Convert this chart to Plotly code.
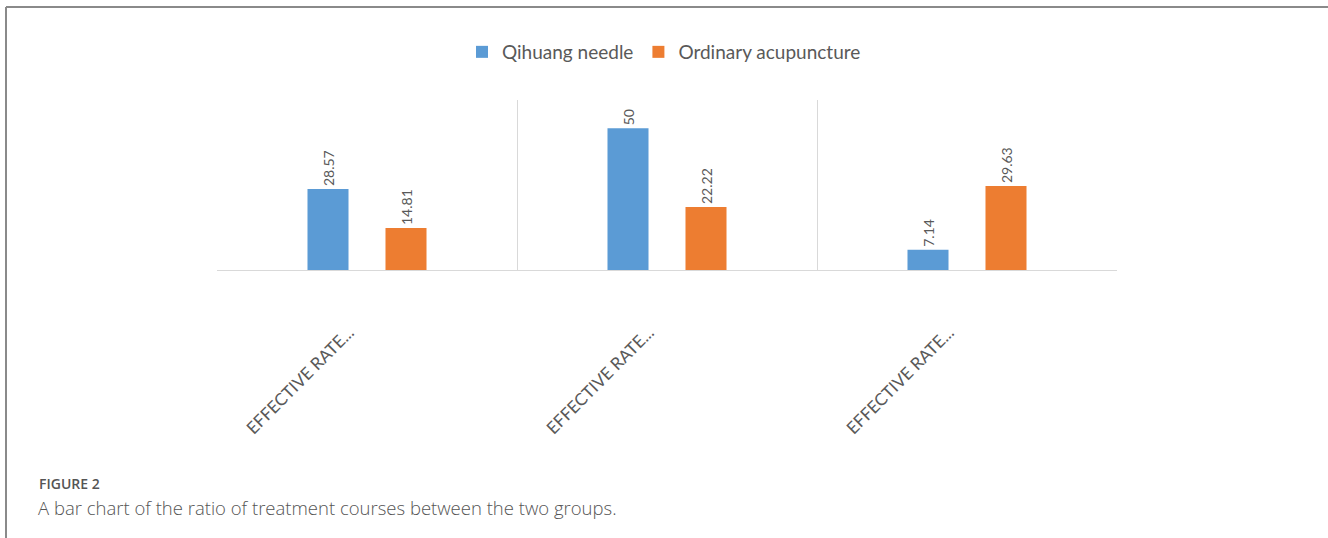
import plotly.graph_objects as go

# Data
categories = ["EFFECTIVE RATE...", "EFFECTIVE RATE...", "EFFECTIVE RATE..."]
qihuang_needle = [28.57, 50, 7.14]
ordinary_acupuncture = [14.81, 22.22, 29.63]
series_names = ["Qihuang needle", "Ordinary acupuncture"]
caption_label = "FIGURE 2"
caption_text = "A bar chart of the ratio of treatment courses between the two groups."

W, H = 1328, 538
BLUE = "#5B9BD5"
ORANGE = "#ED7D31"
TEXT_GREY = "#595959"
GRID = "#d9d9d9"
FONT = "Lato, Open Sans, sans-serif"

x_pos = list(range(len(categories)))
# angled labels sit to the right of their tick; pull them back onto the category centre
label_pos = [p - 0.06 for p in x_pos]

fig = go.Figure()
for name, vals, color in [(series_names[0], qihuang_needle, BLUE),
                          (series_names[1], ordinary_acupuncture, ORANGE)]:
    fig.add_trace(go.Bar(
        name=name, x=x_pos, y=vals, marker=dict(color=color, line=dict(width=0)),
        text=[f"{v:g}" for v in vals], textposition="outside", textangle=-90,
        textfont=dict(family=FONT, size=14, color=TEXT_GREY),
        cliponaxis=False,
    ))

def px_x(p):
    return p / W

def px_y(p):
    return 1 - p / H

fig.update_layout(
    width=W, height=H,
    margin=dict(l=0, r=0, t=0, b=0),
    paper_bgcolor="white", plot_bgcolor="white",
    barmode="group", bargap=0.48, bargroupgap=0.474,
    font=dict(family=FONT, color=TEXT_GREY),
    showlegend=True,
    legend=dict(orientation="h", x=0.5, xanchor="center", y=px_y(52), yanchor="middle",
                font=dict(family=FONT, size=19, color=TEXT_GREY),
                itemwidth=30, traceorder="normal"),
    xaxis=dict(
        domain=[px_x(217), px_x(1117)], range=[-0.5, len(categories) - 0.5],
        tickvals=label_pos, ticktext=categories, tickangle=-45,
        tickfont=dict(family=FONT, size=17, color=TEXT_GREY),
        ticks="", ticklabelstandoff=45,
        showgrid=False, zeroline=False,
        showline=True, linecolor=GRID, linewidth=1,
        minor=dict(tickvals=[-0.5, 0.5, 1.5, 2.5], showgrid=True, gridcolor=GRID, gridwidth=1, ticks=""),
    ),
    yaxis=dict(
        domain=[px_y(270), px_y(100)], range=[0, 60],
        visible=False, showgrid=False, zeroline=False,
    ),
    annotations=[
        dict(text=caption_label, xref="paper", yref="paper", x=px_x(37), y=px_y(483),
             xanchor="left", yanchor="middle", showarrow=False,
             font=dict(family="Open Sans, sans-serif", size=14, color="#555555", weight=600)),
        dict(text=caption_text, xref="paper", yref="paper", x=px_x(36), y=px_y(507),
             xanchor="left", yanchor="middle", showarrow=False,
             font=dict(family="Open Sans, sans-serif", size=18.5, color="#555555", weight=300)),
    ],
    shapes=[
        dict(type="line", xref="paper", yref="paper", x0=px_x(6), x1=1, y0=px_y(7), y1=px_y(7),
             line=dict(color="#8a8a8a", width=2)),
        dict(type="line", xref="paper", yref="paper", x0=px_x(6), x1=px_x(6), y0=px_y(7), y1=0,
             line=dict(color="#8a8a8a", width=2)),
    ],
)

fig.write_html("out.html")
